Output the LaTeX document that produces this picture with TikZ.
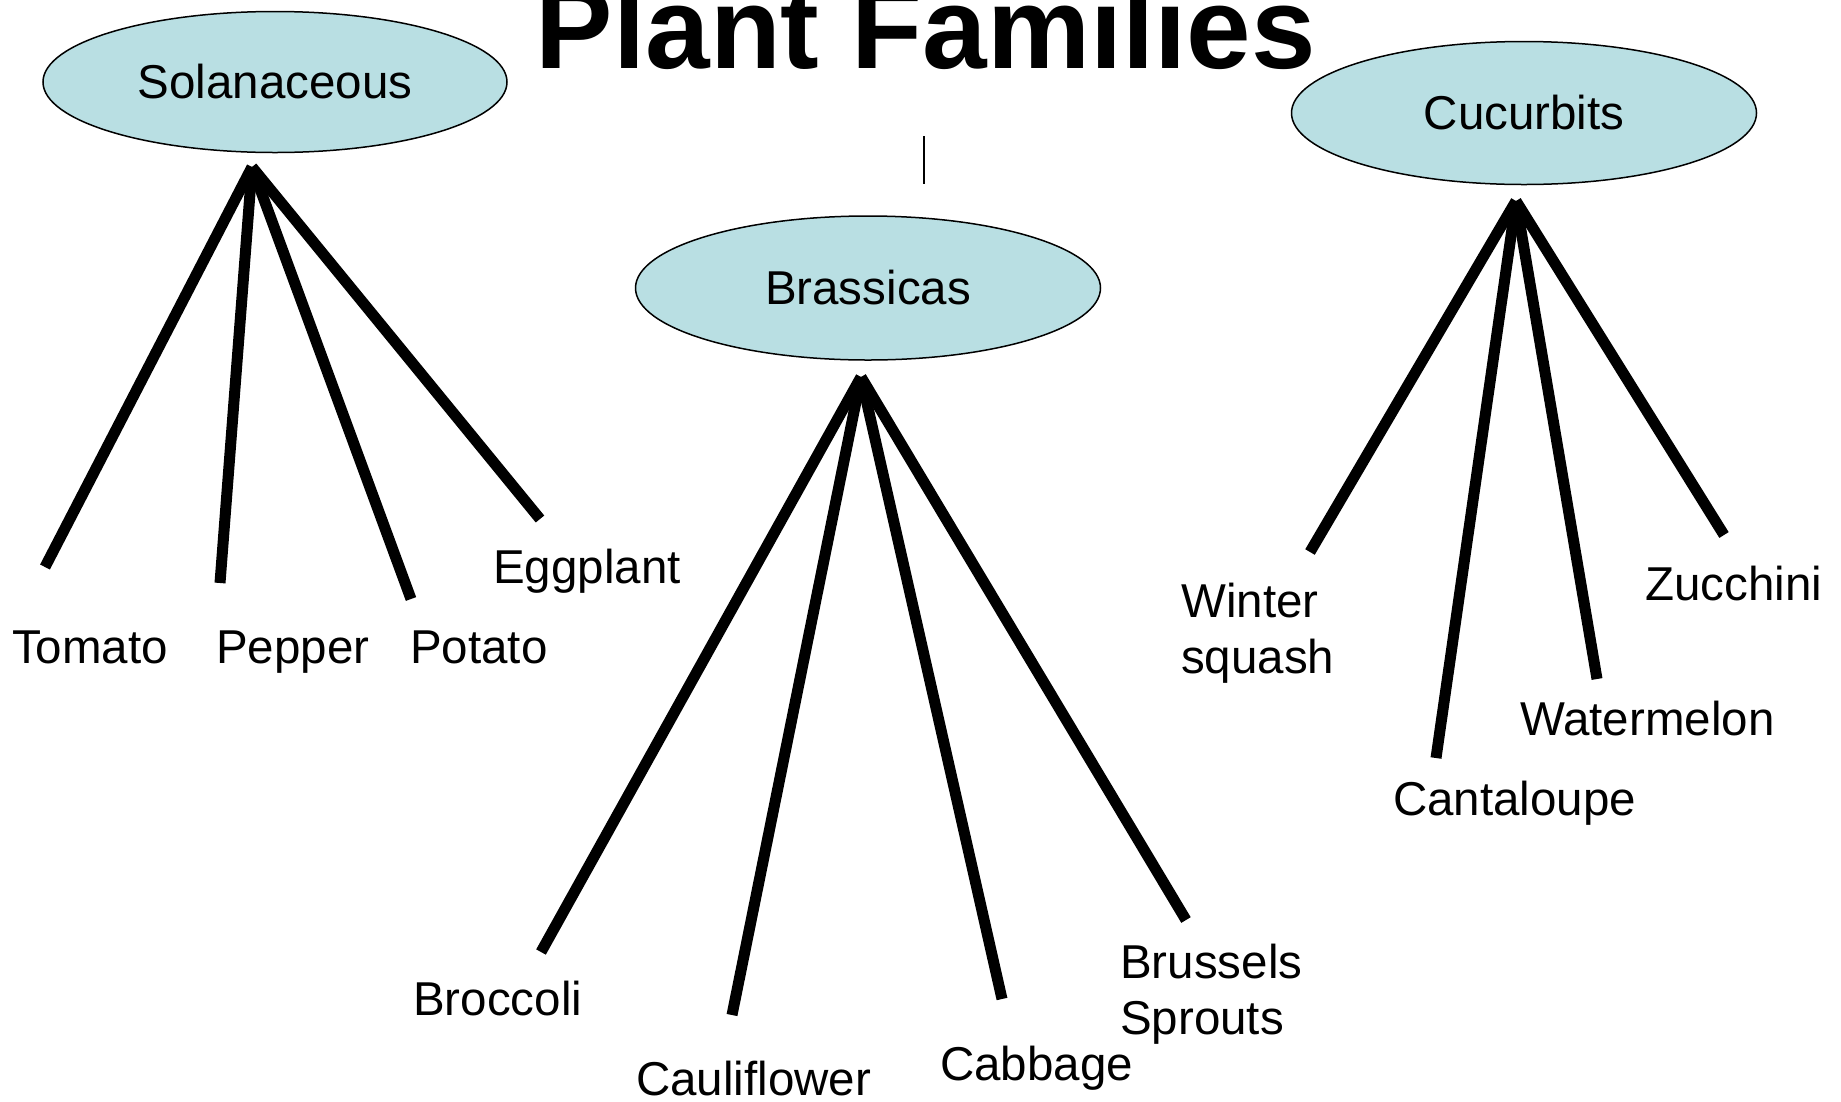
\documentclass[tikz,border=0pt]{standalone}
\usepackage{fontspec}
\setmainfont{Liberation Sans}
\usetikzlibrary{shapes.geometric}
\definecolor{famfill}{RGB}{185,223,227}
\tikzset{
  family/.style={ellipse, draw=black, line width=1.5pt, fill=famfill, inner sep=0pt,
     font=\fontsize{47.5}{56}\selectfont},
  branch/.style={line width=11pt, line cap=butt, line join=miter, black},
  lbl/.style={anchor=base west, inner sep=0pt, align=left, font=\fontsize{47.5}{56}\selectfont}
}
\begin{document}
\begin{tikzpicture}[x=1pt,y=-1pt]
\useasboundingbox (0,0) rectangle (1841,1101);
% title
\node[anchor=base, inner sep=0pt, font=\fontsize{116}{120}\selectfont\bfseries] (title) at (926,68) {Plant Families};
\coordinate (vtop) at (924,136);
\coordinate (vbot) at (924,184);
\draw[line width=1.5pt] (vtop) -- (vbot);
% families
\node[family, minimum width=464pt, minimum height=141pt] (sol) at (275,82) {Solanaceous};
\node[family, minimum width=465pt, minimum height=143pt] (cuc) at (1524,113) {Cucurbits};
\node[family, minimum width=465pt, minimum height=144pt] (bra) at (868,288) {Brassicas};
% apexes
\coordinate (solA) at (252,167);
\coordinate (braA) at (861,377);
\coordinate (cucA) at (1516,201);
% line ends
\coordinate (tomE) at (45,567);
\coordinate (pepE) at (220,583);
\coordinate (potE) at (411,599);
\coordinate (eggE) at (540,519);
\coordinate (broE) at (541,952);
\coordinate (cauE) at (732,1015);
\coordinate (cabE) at (1002,999);
\coordinate (bruE) at (1186,920);
\coordinate (winE) at (1310,552);
\coordinate (canE) at (1436,758);
\coordinate (watE) at (1597,679);
\coordinate (zucE) at (1724,535);
% labels
\node[lbl] (tom) at (12,663) {Tomato};
\node[lbl] (pep) at (216,663) {Pepper};
\node[lbl] (pot) at (410,663) {Potato};
\node[lbl] (egg) at (493,583) {Eggplant};
\node[lbl] (bro) at (413,1015) {Broccoli};
\node[lbl] (cau) at (636,1095) {Cauliflower};
\node[lbl] (cab) at (940,1080) {Cabbage};
\node[lbl] (bru) at (1120,1034) {Brussels\\Sprouts};
\node[lbl] (win) at (1181,673) {Winter\\squash};
\node[lbl] (can) at (1393,815) {Cantaloupe};
\node[lbl] (wat) at (1520,735) {Watermelon};
\node[lbl] (zuc) at (1645,600) {Zucchini};
% branches
\draw[branch] (solA) -- (tomE);
\draw[branch] (solA) -- (pepE);
\draw[branch] (solA) -- (potE);
\draw[branch] (solA) -- (eggE);
\draw[branch] (braA) -- (broE);
\draw[branch] (braA) -- (cauE);
\draw[branch] (braA) -- (cabE);
\draw[branch] (braA) -- (bruE);
\draw[branch] (cucA) -- (winE);
\draw[branch] (cucA) -- (canE);
\draw[branch] (cucA) -- (watE);
\draw[branch] (cucA) -- (zucE);
\end{tikzpicture}
\end{document}
